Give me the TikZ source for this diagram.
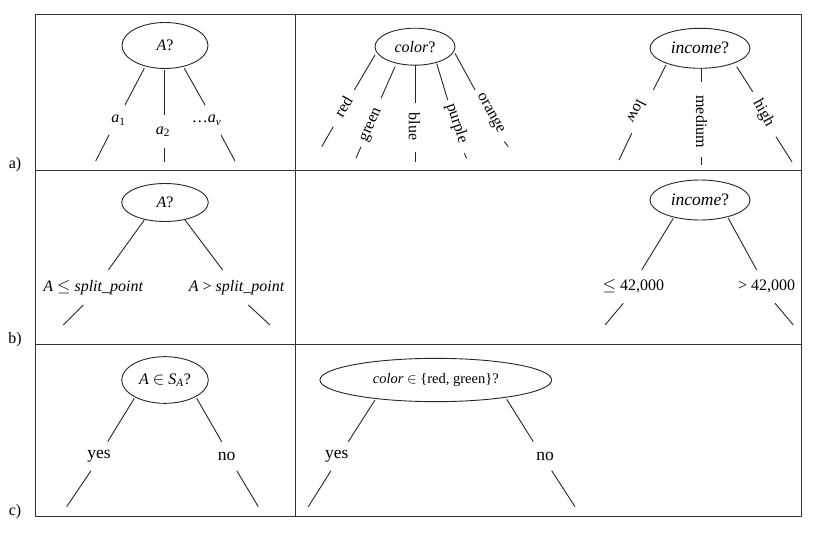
\documentclass[tikz,border=0pt]{standalone}
\usepackage{fontspec}
\setmainfont{Liberation Serif}
\usetikzlibrary{shapes.geometric}
\begin{document}
\begin{tikzpicture}[x=1pt,y=-1pt,
  test/.style={draw=black!85, ellipse, line width=0.9pt, inner sep=0pt, font=\fontsize{16}{18}\selectfont},
  lab/.style={inner sep=0pt, font=\fontsize{16}{18}\selectfont},
  edge/.style={line width=0.9pt, draw=black!85},
  grid/.style={line width=1pt, draw=black!80}]
\useasboundingbox (0,0) rectangle (817,535);
% table
\draw[grid] (35.5,15) rectangle (801,516);
\draw[grid] (35.5,170) -- (801,170);
\draw[grid] (35.5,344) -- (801,344);
\draw[grid] (295,15) -- (295,516);
\node[lab] (ra) at (15,165) {a)};
\node[lab] (rb) at (15,340) {b)};
\node[lab] (rc) at (15,512) {c)};

% ---- row a, left
\node[test, minimum width=86, minimum height=46] (A1) at (165,45.5) {\textit{A}?};
\coordinate (a1s) at (144.3,68.3); \coordinate (a1e) at (125,105);
\node[lab] (a1) at (118.3,120) {\textit{a}\textsubscript{1}};
\coordinate (a1b) at (109,135); \coordinate (a1f) at (95.7,161);
\coordinate (a2s) at (164.3,70); \coordinate (a2e) at (164.3,115);
\node[lab] (a2) at (163,131.7) {\textit{a}\textsubscript{2}};
\coordinate (a2b) at (164.3,147.7); \coordinate (a2f) at (164.3,161.7);
\coordinate (a3s) at (184.3,68.3); \coordinate (a3e) at (205,105);
\node[lab] (a3) at (206.7,120) {…\textit{a}\textsubscript{\textit{v}}};
\coordinate (a3b) at (221,135); \coordinate (a3f) at (235,161);
\draw[edge] (a1s) -- (a1e) (a1b) -- (a1f);
\draw[edge] (a2s) -- (a2e) (a2b) -- (a2f);
\draw[edge] (a3s) -- (a3e) (a3b) -- (a3f);

% ---- row a, color
\node[test, minimum width=80, minimum height=37] (C1) at (415,46.7) {\textit{color}?};
\coordinate (c1s) at (375,55); \coordinate (c1e) at (354.3,90);
\node[lab, rotate=59] (c1) at (343.3,106.7) {red};
\coordinate (c1b) at (333.3,126.7); \coordinate (c1f) at (321.7,146.7);
\coordinate (c2s) at (395,66.7); \coordinate (c2e) at (381,98.3);
\node[lab, rotate=66] (c2) at (371.7,125) {green};
\coordinate (c2b) at (361,146.7); \coordinate (c2f) at (356,158.3);
\coordinate (c3s) at (415,65.2); \coordinate (c3e) at (415,103.3);
\node[lab, rotate=-90] (c3) at (414.3,126.7) {blue};
\coordinate (c3b) at (415,151.7); \coordinate (c3f) at (415,161.7);
\coordinate (c4s) at (436.7,63.5); \coordinate (c4e) at (447.7,100);
\node[lab, rotate=-72] (c4) at (456.7,123.3) {purple};
\coordinate (c4b) at (464.3,153.3); \coordinate (c4f) at (466.7,158.3);
\coordinate (c5s) at (455,53.3); \coordinate (c5e) at (475,90);
\node[lab, rotate=-61] (c5) at (490,113.3) {orange};
\coordinate (c5b) at (504.3,141.7); \coordinate (c5f) at (508.3,146.7);
\foreach \i in {1,...,5} {\draw[edge] (c\i s) -- (c\i e) (c\i b) -- (c\i f);}

% ---- row a, income
\node[test, minimum width=100, minimum height=40, font=\fontsize{17.5}{19}\selectfont] (I1) at (700,48.3) {\textit{income}?};
\coordinate (i1s) at (666,65); \coordinate (i1e) at (653.3,90);
\node[lab, rotate=-117.5] (i1) at (636.7,111.7) {low};
\coordinate (i1b) at (631.7,133.3); \coordinate (i1f) at (619,160);
\coordinate (i2s) at (701.7,68.3); \coordinate (i2e) at (701.7,81.7);
\node[lab, rotate=-90] (i2) at (701.7,121.7) {medium};
\coordinate (i2b) at (701.7,157); \coordinate (i2f) at (701.7,165);
\coordinate (i3s) at (736.7,66.7); \coordinate (i3e) at (752.7,91.7);
\node[lab, rotate=-61] (i3) at (763.3,113.3) {high};
\coordinate (i3b) at (776,136.7); \coordinate (i3f) at (792,162);
\foreach \i in {1,2,3} {\draw[edge] (i\i s) -- (i\i e) (i\i b) -- (i\i f);}

% ---- row b, left
\node[test, minimum width=86.6, minimum height=38] (A2) at (165,202.5) {\textit{A}?};
\coordinate (b1s) at (144.3,220); \coordinate (b1e) at (108.3,270);
\node[lab] (b1) at (93.3,287.3) {\textit{A} $\le$ \textit{split\_point}};
\coordinate (b1b) at (83.3,305); \coordinate (b1f) at (63.3,325);
\coordinate (b2s) at (185,220); \coordinate (b2e) at (222.7,270);
\node[lab] (b2) at (236.7,287.3) {\textit{A} > \textit{split\_point}};
\coordinate (b2b) at (248.3,305); \coordinate (b2f) at (270,325);
\draw[edge] (b1s) -- (b1e) (b1b) -- (b1f);
\draw[edge] (b2s) -- (b2e) (b2b) -- (b2f);

% ---- row b, right
\node[test, minimum width=100, minimum height=40, font=\fontsize{17.5}{19}\selectfont] (I2) at (700,200) {\textit{income}?};
\coordinate (j1s) at (673.3,218.3); \coordinate (j1e) at (641.7,270);
\node[lab] (j1) at (633.3,286.7) {$\le$ 42,000};
\coordinate (j1b) at (623.3,303.3); \coordinate (j1f) at (605,325);
\coordinate (j2s) at (728.3,218.3); \coordinate (j2e) at (756.7,270);
\node[lab] (j2) at (766.7,286.7) {> 42,000};
\coordinate (j2b) at (775,303.3); \coordinate (j2f) at (793.3,325);
\draw[edge] (j1s) -- (j1e) (j1b) -- (j1f);
\draw[edge] (j2s) -- (j2e) (j2b) -- (j2f);

% ---- row c, left
\node[test, minimum width=86.6, minimum height=46.7] (A3) at (165,380) {\textit{A} $\in$ \textit{S}\textsubscript{\textit{A}}?};
\coordinate (d1s) at (134.3,398.3); \coordinate (d1e) at (107.7,441.7);
\node[lab, font=\fontsize{17.5}{19}\selectfont] (d1) at (99,456.7) {yes};
\coordinate (d1b) at (91,470.7); \coordinate (d1f) at (66.7,506.7);
\coordinate (d2s) at (196.7,398.3); \coordinate (d2e) at (221.7,441.7);
\node[lab, font=\fontsize{17.5}{19}\selectfont] (d2) at (226.7,456.7) {no};
\coordinate (d2b) at (236.7,470.7); \coordinate (d2f) at (258.3,506.7);
\draw[edge] (d1s) -- (d1e) (d1b) -- (d1f);
\draw[edge] (d2s) -- (d2e) (d2b) -- (d2f);

% ---- row c, color
\node[test, minimum width=231.7, minimum height=43.3, font=\fontsize{14.5}{17}\selectfont] (C2) at (435.8,380) {\textit{color} $\in$ \{red, green\}?};
\coordinate (e1s) at (375,400); \coordinate (e1e) at (348.3,441.7);
\node[lab, font=\fontsize{17.5}{19}\selectfont] (e1) at (336.7,456.7) {yes};
\coordinate (e1b) at (331,470.7); \coordinate (e1f) at (308.3,506.7);
\coordinate (e2s) at (506.7,399.3); \coordinate (e2e) at (533.3,441.7);
\node[lab, font=\fontsize{17.5}{19}\selectfont] (e2) at (545,456.7) {no};
\coordinate (e2b) at (551.7,470.7); \coordinate (e2f) at (575,506.7);
\draw[edge] (e1s) -- (e1e) (e1b) -- (e1f);
\draw[edge] (e2s) -- (e2e) (e2b) -- (e2f);
\end{tikzpicture}
\end{document}
